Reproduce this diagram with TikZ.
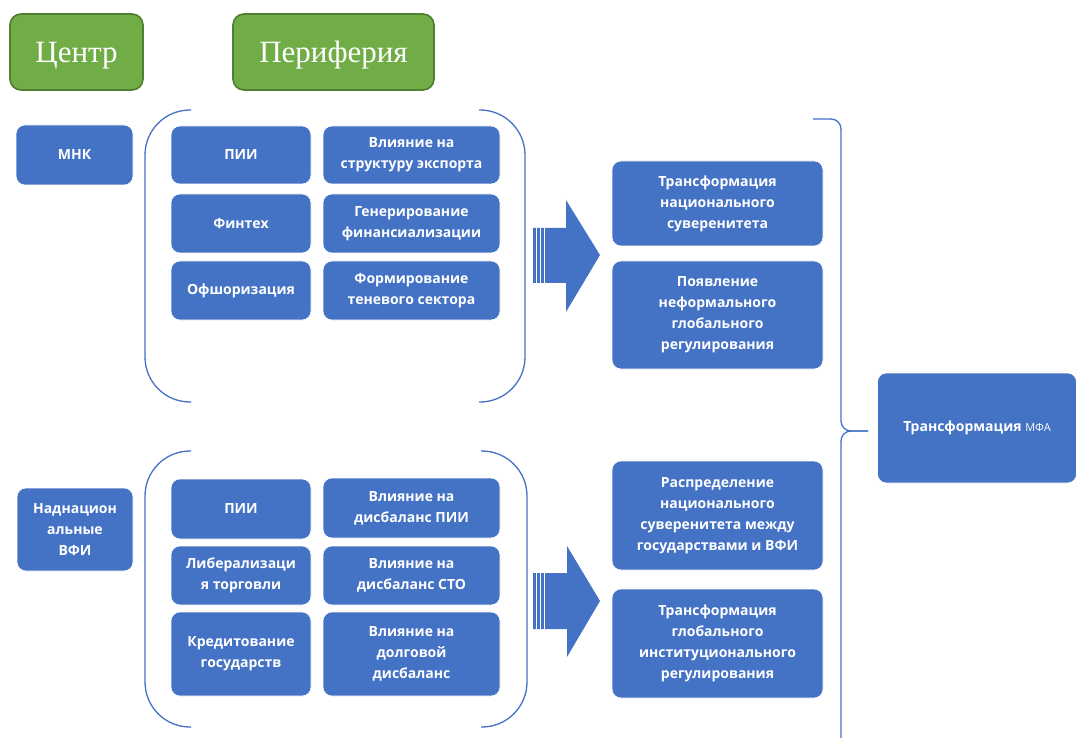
\documentclass[tikz,border=0pt]{standalone}
\usepackage{fontspec}
\setmainfont{Open Sans}
\newfontfamily\headfont{Liberation Serif}
\usetikzlibrary{calc}

\definecolor{boxblue}{RGB}{68,114,196}
\definecolor{boxgreen}{RGB}{112,173,71}
\definecolor{greenline}{RGB}{80,126,50}

\tikzset{
    blk/.style={rectangle, rounded corners=9pt, fill=boxblue, draw=white,
        line width=0.6pt, text=white, align=center, inner sep=0pt,
        font=\fontsize{14}{21}\selectfont\bfseries},
    head/.style={rectangle, rounded corners=11pt, fill=boxgreen, draw=greenline,
        line width=1.6pt, text=white, inner sep=0pt, text height=21pt, text depth=0pt,
        font=\headfont\fontsize{31}{33}\selectfont},
    paren/.style={draw=boxblue, line width=1.3pt, rounded corners=45pt},
    brc/.style={draw=boxblue, line width=1.3pt, rounded corners=10pt}
}

\begin{document}
\begin{tikzpicture}[x=1pt,y=-1pt]
\useasboundingbox (0,0) rectangle (1077,738);

% Headers
\node[head, minimum width=133pt, minimum height=76pt] (centr) at (76.5,52) {Центр};
\node[head, minimum width=201pt, minimum height=76pt] (perif) at (333.5,52) {Периферия};

% Upper group
\node[blk, minimum width=117pt, minimum height=60pt] (mnk) at (74.5,155) {МНК};

\draw[paren] (191,110) -- (145,110) -- (145,402) -- (191,402);
\draw[paren] (479,110) -- (525,110) -- (525,402) -- (479,402);

\node[blk, minimum width=140pt, minimum height=58pt] (pii1) at (241,155) {ПИИ};
\node[blk, minimum width=177pt, minimum height=58pt] (eksp) at (411.5,155) {Влияние на\\структуру экспорта};
\node[blk, minimum width=140pt, minimum height=59pt] (fint) at (241,223.5) {Финтех};
\node[blk, minimum width=177pt, minimum height=59pt] (fins) at (411.5,223.5) {Генерирование\\финансиализации};
\node[blk, minimum width=140pt, minimum height=59pt] (offs) at (241,290.5) {Офшоризация};
\node[blk, minimum width=177pt, minimum height=59pt] (ten) at (411.5,290.5) {Формирование\\теневого сектора};

% Arrow (upper)
\fill[boxblue] (533,228) -- (566,228) -- (566,200) -- (600,255) -- (566,312)
    -- (566,283) -- (533,283) -- cycle;
\foreach \x in {536,540,544}
    \draw[white, line width=0.6pt] (\x,228) -- (\x,283);

\node[blk, minimum width=211pt, minimum height=85pt] (suv) at (717.5,203.5) {Трансформация\\национального\\суверенитета};
\node[blk, minimum width=211pt, minimum height=108pt] (nefr) at (717.5,315) {Появление\\неформального\\глобального\\регулирования};

% Lower group
\node[blk, minimum width=116pt, minimum height=83pt] (vfi) at (75,529.5) {Наднацион\\альные\\ВФИ};

\draw[paren] (191,451) -- (145,451) -- (145,727) -- (191,727);
\draw[paren] (481,451) -- (527,451) -- (527,727) -- (481,727);

\node[blk, minimum width=140pt, minimum height=60pt] (pii2) at (241,509) {ПИИ};
\node[blk, minimum width=177pt, minimum height=60pt] (dpii) at (411.5,508) {Влияние на\\дисбаланс ПИИ};
\node[blk, minimum width=140pt, minimum height=59pt] (libr) at (241,575.5) {Либерализаци\\я торговли};
\node[blk, minimum width=177pt, minimum height=59pt] (dsto) at (411.5,575.5) {Влияние на\\дисбаланс СТО};
\node[blk, minimum width=140pt, minimum height=84pt] (kred) at (241,654) {Кредитование\\государств};
\node[blk, minimum width=177pt, minimum height=84pt] (dolg) at (411.5,654) {Влияние на\\долговой\\дисбаланс};

% Arrow (lower)
\fill[boxblue] (533,573) -- (567,573) -- (567,546) -- (600,601) -- (567,657)
    -- (567,629) -- (533,629) -- cycle;
\foreach \x in {536,540,544}
    \draw[white, line width=0.6pt] (\x,573) -- (\x,629);

\node[blk, minimum width=211pt, minimum height=109pt] (rasp) at (717.5,515.5) {Распределение\\национального\\суверенитета между\\государствами и ВФИ};
\node[blk, minimum width=211pt, minimum height=109pt] (inst) at (717.5,643.5) {Трансформация\\глобального\\институционального\\регулирования};

% Brace
\draw[brc] (813,119) -- (841,119) -- (841,431) -- (868,431);
\draw[brc] (868,431) -- (841,431) -- (841,750);

% Result
\node[blk, minimum width=199pt, minimum height=110pt] (mfa) at (977,428) {Трансформация {\fontsize{11}{13}\selectfont\mdseries МФА}};

\end{tikzpicture}
\end{document}
